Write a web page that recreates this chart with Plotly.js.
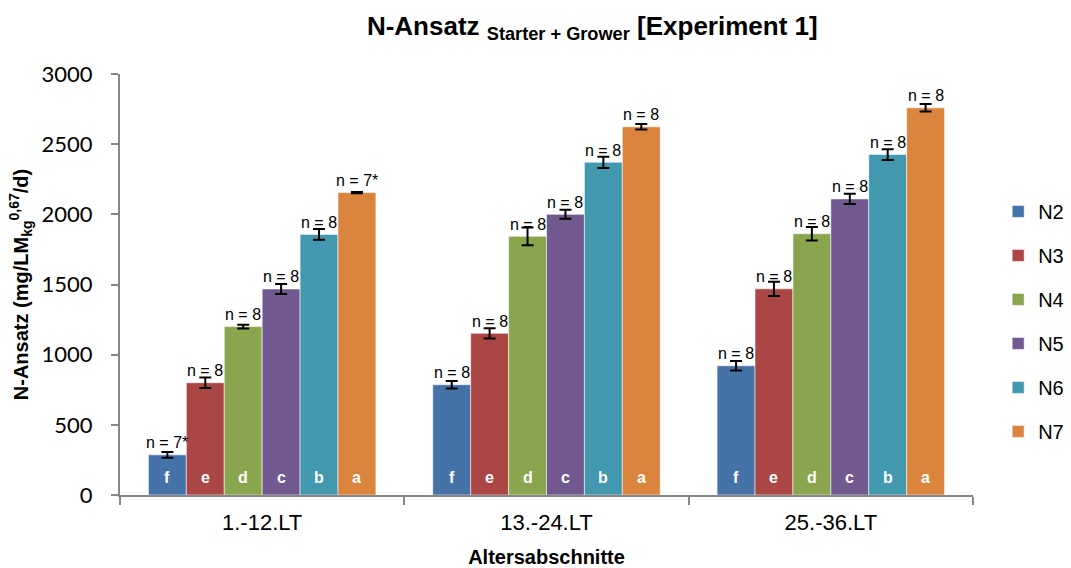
<!DOCTYPE html>
<html>
<head>
<meta charset="utf-8">
<script src="https://cdn.plot.ly/plotly-3.0.1.min.js"></script>
<style>html,body{margin:0;padding:0;background:#fff;}#chart{width:1071px;height:568px;}</style>
</head>
<body>
<div id="chart"></div>
<script>
const categories = ["1.-12.LT", "13.-24.LT", "25.-36.LT"];
const seriesNames = ["N2", "N3", "N4", "N5", "N6", "N7"];
const colors = ["#4572A7", "#AA4643", "#89A54E", "#71588F", "#4198AF", "#DB843D"];

const N2 = [286, 786, 921];
const N3 = [800, 1152, 1469];
const N4 = [1200, 1843, 1862];
const N5 = [1468, 2000, 2110];
const N6 = [1857, 2371, 2426];
const N7 = [2155, 2624, 2759];

const N2_err = [20, 27, 33];
const N3_err = [38, 36, 51];
const N4_err = [14, 64, 48];
const N5_err = [35, 32, 37];
const N6_err = [39, 40, 38];
const N7_err = [5, 19, 27];

const N2_n = ["n = 7*", "n = 8", "n = 8"];
const N3_n = ["n = 8", "n = 8", "n = 8"];
const N4_n = ["n = 8", "n = 8", "n = 8"];
const N5_n = ["n = 8", "n = 8", "n = 8"];
const N6_n = ["n = 8", "n = 8", "n = 8"];
const N7_n = ["n = 7*", "n = 8", "n = 8"];

const letters = ["f", "e", "d", "c", "b", "a"];

const values = [N2, N3, N4, N5, N6, N7];
const errors = [N2_err, N3_err, N4_err, N5_err, N6_err, N7_err];
const nLabels = [N2_n, N3_n, N4_n, N5_n, N6_n, N7_n];

const ARIAL = "Liberation Sans, Arial, sans-serif";

const traces = seriesNames.map((name, i) => ({
  type: "bar",
  name: name,
  legendgroup: name,
  x: categories,
  y: values[i],
  marker: {color: colors[i], line: {color: "rgba(255,255,255,0.55)", width: 1}},
  error_y: {type: "data", array: errors[i], visible: true, color: "#000", thickness: 2, width: 6},
  hoverinfo: "x+y+name"
}));

const marginL = 120, marginR = 98, figW = 1071;
const plotW = figW - marginL - marginR;
const catW = plotW / categories.length;
const bargap = 0.2;
const barW = catW * (1 - bargap) / seriesNames.length;

const annotations = [];
seriesNames.forEach((name, i) => {
  const shift = (i - (seriesNames.length - 1) / 2) * barW;
  categories.forEach((c, j) => {
    annotations.push({
      x: c, y: values[i][j], xref: "x", yref: "y",
      text: nLabels[i][j], showarrow: false,
      xanchor: "center", yanchor: "middle", xshift: shift, yshift: 12,
      font: {family: ARIAL, size: 16, color: "#000"}
    });
    annotations.push({
      x: c, y: 0, xref: "x", yref: "y",
      text: letters[i], showarrow: false,
      xanchor: "center", yanchor: "middle", xshift: shift, yshift: 18,
      font: {family: ARIAL, size: 16, color: "#fff", weight: "bold"}
    });
  });
});

const layout = {
  width: 1071, height: 568,
  margin: {l: marginL, r: marginR, t: 74, b: 73, pad: 0, autoexpand: false},
  paper_bgcolor: "#fff", plot_bgcolor: "#fff",
  barmode: "group", bargap: bargap, bargroupgap: 0,
  title: {
    text: "N-Ansatz <sub>Starter + Grower</sub> [Experiment 1]",
    font: {family: ARIAL, size: 26, color: "#000", weight: "bold"},
    xref: "container", yref: "container", x: 0.553, xanchor: "center", y: 0.955, yanchor: "middle"
  },
  xaxis: {
    type: "category",
    showline: true, linecolor: "#878787", linewidth: 2,
    ticks: "outside", tickson: "boundaries", ticklen: 8, tickcolor: "#878787", tickwidth: 2,
    tickfont: {family: ARIAL, size: 22, color: "#000"},
    ticklabelstandoff: 7,
    showgrid: false, zeroline: false, fixedrange: true,
    title: {text: "Altersabschnitte", font: {family: ARIAL, size: 20, color: "#000", weight: "bold"}, standoff: 17}
  },
  yaxis: {
    range: [0, 3000], dtick: 500, tick0: 0,
    showline: true, linecolor: "#878787", linewidth: 2,
    ticks: "outside", ticklen: 7, tickcolor: "#878787", tickwidth: 2,
    tickfont: {family: "Lato, Open Sans, sans-serif", size: 22, color: "#000"},
    ticklabelstandoff: 14,
    showgrid: false, zeroline: false, fixedrange: true,
    title: {text: "N-Ansatz (mg/LM<sub>kg</sub><sup>0,67</sup>/d)", font: {family: ARIAL, size: 20, color: "#000", weight: "bold"}, standoff: 8}
  },
  legend: {
    xref: "container", x: 0.932, xanchor: "left", y: 0.72, yanchor: "top",
    font: {family: ARIAL, size: 20, color: "#000"},
    tracegroupgap: 15, itemwidth: 30, bgcolor: "rgba(0,0,0,0)"
  },
  showlegend: true,
  annotations: annotations
};

Plotly.newPlot("chart", traces, layout, {displayModeBar: false, staticPlot: true});
</script>
</body>
</html>
